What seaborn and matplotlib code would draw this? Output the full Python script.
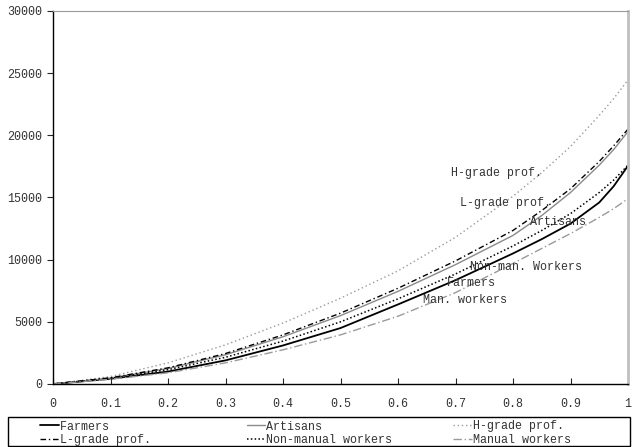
import matplotlib
matplotlib.use("Agg")
import matplotlib.pyplot as plt
from matplotlib.patches import Rectangle
import numpy as np
import pandas as pd
import seaborn as sns

# ---- data ----
pop_share  = [0.0, 0.1, 0.2, 0.3, 0.4, 0.5, 0.6, 0.7, 0.8, 0.85, 0.9, 0.95, 0.975, 1.0]
farmers    = [0, 420, 1000, 1900, 3100, 4500, 6400, 8350, 10500, 11650, 12900, 14600, 15900, 17550]
artisans   = [0, 480, 1250, 2350, 3800, 5500, 7450, 9600, 11950, 13550, 15400, 17600, 18850, 20300]
h_grade    = [0, 600, 1700, 3150, 4900, 6900, 9100, 11800, 15100, 17000, 19100, 21600, 22950, 24450]
l_grade    = [0, 500, 1300, 2450, 3950, 5700, 7700, 9900, 12350, 13950, 15700, 17900, 19150, 20500]
non_manual = [0, 450, 1150, 2150, 3450, 5000, 6850, 8850, 11100, 12350, 13700, 15400, 16400, 17600]
manual     = [0, 380, 900, 1700, 2750, 3950, 5450, 7350, 9700, 10900, 12100, 13400, 14100, 14900]

series_names = ["Farmers", "Artisans", "H-grade prof.", "L-grade prof.",
                "Non-manual workers", "Manual workers"]
series_values = [farmers, artisans, h_grade, l_grade, non_manual, manual]

curve_labels = ["H-grade prof.", "L-grade prof.", "Artisans",
                "Non-man. Workers", "Farmers", "Man. workers"]
curve_label_x = [0.693, 0.707, 0.830, 0.725, 0.685, 0.644]
curve_label_y = [16970, 14560, 13030, 9410, 8120, 6760]

x_ticks = [0, 0.1, 0.2, 0.3, 0.4, 0.5, 0.6, 0.7, 0.8, 0.9, 1]
x_ticklabels = ["0", "0.1", "0.2", "0.3", "0.4", "0.5", "0.6", "0.7", "0.8", "0.9", "1"]
y_ticks = [0, 5000, 10000, 15000, 20000, 25000, 30000]

# ---- styles ----
styles = {
    "Farmers":            dict(color="black",   ls="-",                 lw=1.3),
    "Artisans":           dict(color="#8a8a8a", ls="-",                 lw=1.0),
    "H-grade prof.":      dict(color="#9a9a9a", ls=(0, (1, 2)),         lw=1.0),
    "L-grade prof.":      dict(color="black",   ls=(0, (4, 2, 1, 2)),   lw=1.0),
    "Non-manual workers": dict(color="black",   ls=(0, (1, 1.5)),       lw=1.1),
    "Manual workers":     dict(color="#9a9a9a", ls=(0, (6, 2, 1, 2)),   lw=1.0),
}

sns.set_style("ticks")
plt.rcParams["font.family"] = ["Liberation Mono", "DejaVu Sans Mono"]
FS = 8.4

fig = plt.figure(figsize=(6.36, 4.47), dpi=100)
ax = fig.add_axes([53/636, 1-384/447, (628-53)/636, (384-11)/447])

handles = {}
for name, vals in zip(series_names, series_values):
    st = styles[name]
    sns.lineplot(x=pop_share, y=vals, ax=ax, color=st["color"],
                 linestyle=st["ls"], linewidth=st["lw"], label=name, legend=False)
    handles[name] = ax.lines[-1]

for txt, lx, ly in zip(curve_labels, curve_label_x, curve_label_y):
    ax.text(lx, ly, txt, fontsize=FS, color="#333333", ha="left", va="center")

ax.set_xlim(0, 1)
ax.set_ylim(0, 30000)
ax.set_xticks(x_ticks)
ax.set_xticklabels(x_ticklabels)
ax.set_yticks(y_ticks)
ax.set_yticklabels([str(v) for v in y_ticks])
ax.tick_params(axis="x", direction="in", length=4, pad=10, labelsize=FS,
               labelcolor="#333333", width=0.8)
ax.tick_params(axis="y", direction="out", length=4, pad=4, labelsize=FS,
               labelcolor="#333333", width=0.8)
ax.set_xlabel("")
ax.set_ylabel("")

ax.spines["left"].set_color("black")
ax.spines["left"].set_linewidth(1.0)
ax.spines["bottom"].set_color("black")
ax.spines["bottom"].set_linewidth(1.0)
ax.spines["top"].set_color("#9a9a9a")
ax.spines["top"].set_linewidth(0.8)
ax.spines["right"].set_color("#c0c0c0")
ax.spines["right"].set_linewidth(2.0)

# legend box
fig.patches.append(Rectangle((8/636, 1-446/447), (630-8)/636, (446-417)/447,
                             transform=fig.transFigure, fill=False,
                             edgecolor="black", linewidth=1.0))

order = ["Farmers", "L-grade prof.", "Artisans", "Non-manual workers",
         "H-grade prof.", "Manual workers"]
width = max(len(n) for n in order)
leg = fig.legend([handles[n] for n in order], [n.ljust(width) for n in order],
                 ncol=3, loc="upper left", bbox_to_anchor=(40/636, 1-420.5/447),
                 frameon=False, fontsize=FS, borderpad=0, borderaxespad=0,
                 handlelength=1.6, handletextpad=0.1, columnspacing=5.2,
                 labelspacing=0.12)
for t in leg.get_texts():
    t.set_color("#333333")

fig.savefig("out.png", dpi=100)
